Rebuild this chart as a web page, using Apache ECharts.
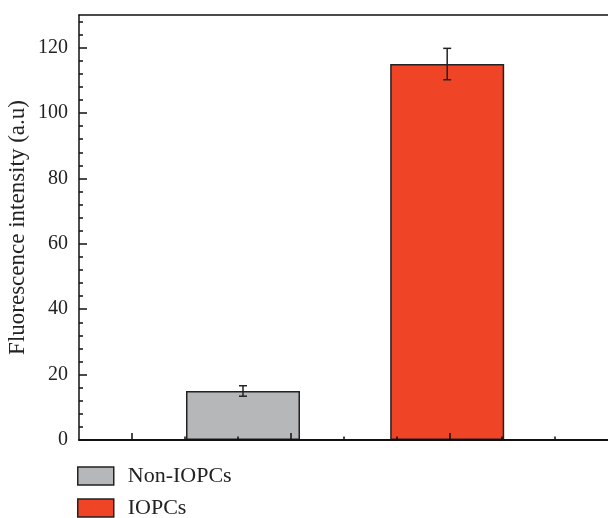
<!DOCTYPE html>
<html>
<head>
<meta charset="utf-8">
<script src="https://cdn.jsdelivr.net/npm/echarts@6/dist/echarts.min.js"></script>
<style>html,body{margin:0;padding:0;background:#fff}#c{width:608px;height:518px}</style>
</head>
<body>
<div id="c"></div>
<script>
const categories = ['Non-IOPCs', 'IOPCs'];
const xPositions = [3.1, 6.96];
const values = [15, 115];
const errors = [1.6, 4.8];
const yTickLabels = [0, 20, 40, 60, 80, 100, 120];
const yMinorTicks = [4,8,12,16,24,28,32,36,44,48,52,56,64,68,72,76,84,88,92,96,104,108,112,116,124,128];
const xMajorTicks = [1, 4, 7];
const xMinorTicks = [2, 3, 5, 6, 8, 9];
const colors = ['#b6b7b9', '#ef4426'];

const FONT = 'Liberation Serif';
const chart = echarts.init(document.getElementById('c'), null, {renderer: 'canvas'});

const barSeries = categories.map((name, i) => ({
  name: name,
  type: 'bar',
  xAxisIndex: 0,
  yAxisIndex: 0,
  barWidth: 114,
  barGap: '-100%',
  data: [[xPositions[i], values[i]]],
  itemStyle: {color: colors[i], borderColor: '#222', borderWidth: 1.5},
  emphasis: {disabled: true},
  z: 1
}));

const errSeries = {
  type: 'custom',
  xAxisIndex: 0,
  yAxisIndex: 0,
  z: 5,
  data: categories.map((c, i) => [xPositions[i], values[i] - errors[i], values[i] + errors[i]]),
  renderItem: function (params, api) {
    const lo = api.coord([api.value(0), api.value(1)]);
    const hi = api.coord([api.value(0), api.value(2)]);
    const hw = 4;
    const st = {stroke: '#222', lineWidth: 1.5};
    return {
      type: 'group',
      children: [
        {type: 'line', shape: {x1: lo[0], y1: lo[1], x2: hi[0], y2: hi[1]}, style: st},
        {type: 'line', shape: {x1: lo[0] - hw, y1: lo[1], x2: lo[0] + hw, y2: lo[1]}, style: st},
        {type: 'line', shape: {x1: hi[0] - hw, y1: hi[1], x2: hi[0] + hw, y2: hi[1]}, style: st}
      ]
    };
  }
};

const lineStyle = {color: '#111', width: 1.5};

chart.setOption({
  animation: false,
  grid: {left: 79, right: 0, top: 15, bottom: 78, containLabel: false, outerBoundsMode: 'none'},
  legend: {
    data: categories,
    orient: 'vertical',
    left: 72,
    top: 460,
    height: 60,
    icon: 'rect',
    itemWidth: 36,
    itemHeight: 18,
    itemGap: 10,
    selectedMode: false,
    itemStyle: {borderColor: '#222', borderWidth: 1.5},
    textStyle: {fontFamily: FONT, fontSize: 22, color: '#222', padding: [0, 0, 0, 9]}
  },
  xAxis: [
    {type: 'value', position: 'bottom', min: 0, max: 10, z: 3,
      axisLine: {show: true, lineStyle: {color: '#111', width: 2}},
      axisTick: {show: true, inside: true, length: 7, customValues: xMajorTicks, lineStyle: lineStyle},
      axisLabel: {show: false}, splitLine: {show: false}},
    {type: 'value', position: 'bottom', min: 0, max: 10, z: 3,
      axisLine: {show: false},
      axisTick: {show: true, inside: true, length: 3.5, customValues: xMinorTicks, lineStyle: lineStyle},
      axisLabel: {show: false}, splitLine: {show: false}},
    {type: 'value', position: 'top', min: 0, max: 10, z: 3,
      axisLine: {show: true, lineStyle: lineStyle},
      axisTick: {show: false}, axisLabel: {show: false}, splitLine: {show: false}}
  ],
  yAxis: [
    {type: 'value', position: 'left', min: 0, max: 130, z: 3,
      name: 'Fluorescence intensity (a.u)', nameLocation: 'middle', nameGap: 50,
      nameMoveOverlap: false,
      nameTextStyle: {fontFamily: FONT, fontSize: 23, color: '#222'},
      axisLine: {show: true, lineStyle: lineStyle},
      axisTick: {show: true, inside: true, length: 8, customValues: yTickLabels, lineStyle: lineStyle},
      axisLabel: {show: true, customValues: yTickLabels, margin: 11, fontFamily: FONT, fontSize: 20, color: '#222'},
      splitLine: {show: false}},
    {type: 'value', position: 'left', min: 0, max: 130, z: 3,
      axisLine: {show: false},
      axisTick: {show: true, inside: true, length: 4, customValues: yMinorTicks, lineStyle: lineStyle},
      axisLabel: {show: false}, splitLine: {show: false}}
  ],
  series: barSeries.concat([errSeries])
});
</script>
</body>
</html>
